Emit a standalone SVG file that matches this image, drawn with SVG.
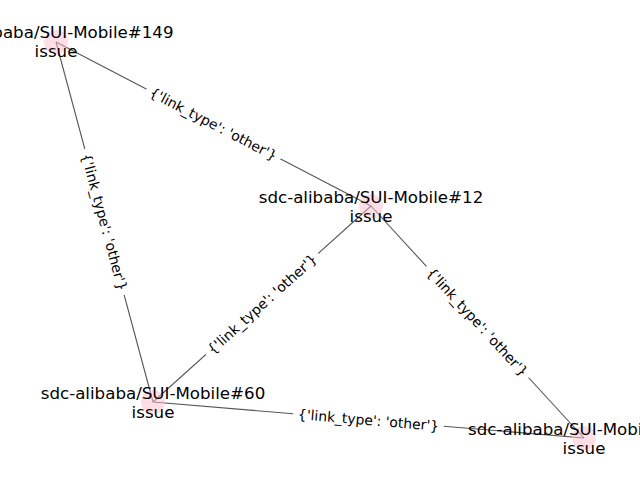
<svg xmlns="http://www.w3.org/2000/svg" width="640" height="480" viewBox="0 0 640 480">
<style>
.edge{stroke:#555555;stroke-width:1.1;fill:none}
.node circle{fill:#ffc0cb;fill-opacity:0.5}
.node text{font-family:"DejaVu Sans",sans-serif;font-size:16.67px;fill:#000;text-anchor:middle}
.elabel rect{fill:#fff;stroke:#fff}
.elabel text{font-family:"DejaVu Sans",sans-serif;font-size:13.89px;fill:#000;text-anchor:middle;dominant-baseline:central}
</style>
<rect width="640" height="480" fill="#fff"/>
<g id="connectors">
<line class="edge" x1="56" y1="42" x2="371" y2="206"/>
<line class="edge" x1="56" y1="42" x2="153" y2="402"/>
<line class="edge" x1="371" y1="206" x2="153" y2="402"/>
<line class="edge" x1="371" y1="206" x2="584" y2="438"/>
<line class="edge" x1="153" y1="402" x2="584" y2="438"/>
</g>
<g id="n149" class="node">
<circle cx="56" cy="42" r="12"/>
<text x="56" y="38">sdc-alibaba/SUI-Mobile#149</text>
<text x="56" y="57">issue</text>
</g>
<g id="n12" class="node">
<circle cx="371" cy="206" r="12"/>
<text x="371" y="203">sdc-alibaba/SUI-Mobile#12</text>
<text x="371" y="222">issue</text>
</g>
<g id="n60" class="node">
<circle cx="153" cy="402" r="12"/>
<text x="153" y="399">sdc-alibaba/SUI-Mobile#60</text>
<text x="153" y="418">issue</text>
</g>
<g id="nlast" class="node">
<circle cx="584" cy="438" r="12"/>
<text x="468" y="435" style="text-anchor:start">sdc-alibaba/SUI-Mobile</text>
<text x="584" y="454">issue</text>
</g>
<g id="edge-labels">
<g class="elabel" transform="translate(213.5,124) rotate(27.5)"><rect x="-75" y="-11" width="150" height="22" rx="4"/><text>{'link_type': 'other'}</text></g>
<g class="elabel" transform="translate(104.5,222) rotate(74.9)"><rect x="-75" y="-11" width="150" height="22" rx="4"/><text>{'link_type': 'other'}</text></g>
<g class="elabel" transform="translate(262,304) rotate(-42)"><rect x="-75" y="-11" width="150" height="22" rx="4"/><text>{'link_type': 'other'}</text></g>
<g class="elabel" transform="translate(477.5,322) rotate(47.4)"><rect x="-75" y="-11" width="150" height="22" rx="4"/><text>{'link_type': 'other'}</text></g>
<g class="elabel" transform="translate(368.5,420) rotate(4.8)"><rect x="-75" y="-11" width="150" height="22" rx="4"/><text>{'link_type': 'other'}</text></g>
</g>
</svg>
